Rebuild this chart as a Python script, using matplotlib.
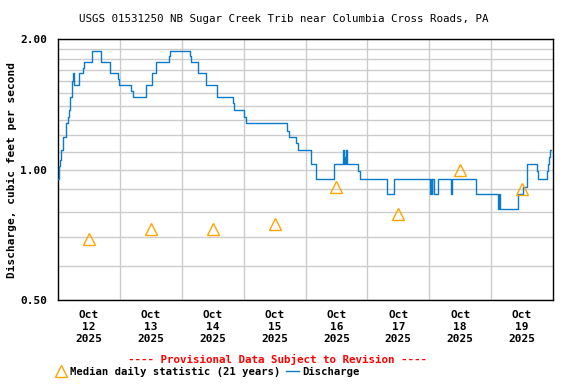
import matplotlib
matplotlib.use("Agg")
import matplotlib.pyplot as plt
from matplotlib.lines import Line2D
from matplotlib.ticker import FixedLocator, NullFormatter

# discharge, step changes: hours after Oct 12 2025 00:00 and value (cfs)
hours = [0.0, 0.25, 0.75, 1.0, 1.75, 2.0, 3.25, 4.0, 4.25, 4.75, 5.25, 5.5, 5.75, 6.25,
         8.25, 9.75, 10.25, 13.0, 13.25, 16.5, 16.75, 20.0, 23.25, 23.75, 28.5, 29.0,
         34.25, 36.5, 38.0, 43.0, 43.25, 51.25, 51.5, 54.25, 57.25, 57.5, 61.5, 67.75,
         68.25, 72.25, 72.75, 89.0, 89.5, 92.5, 93.0, 98.0, 100.0, 107.0, 110.5, 110.75,
         111.0, 111.5, 111.75, 112.0, 116.5, 117.0, 127.5, 130.5, 144.25, 144.5, 145.0,
         145.25, 145.75, 147.5, 152.5, 152.75, 162.25, 170.75, 171.0, 171.5, 178.25,
         180.25, 182.0, 185.75, 186.25, 189.75, 190.0, 190.5, 191.0, 191.25]
flow = [0.95, 1.02, 1.05, 1.11, 1.14, 1.19, 1.28, 1.32, 1.37, 1.47, 1.52, 1.60, 1.67, 1.57,
        1.67, 1.71, 1.77, 1.83, 1.88, 1.83, 1.77, 1.67, 1.62, 1.57, 1.52, 1.47,
        1.57, 1.67, 1.77, 1.83, 1.88, 1.83, 1.77, 1.67, 1.62, 1.57, 1.47, 1.42,
        1.37, 1.32, 1.28, 1.23, 1.19, 1.15, 1.11, 1.03, 0.95, 1.03, 1.11, 1.03,
        1.07, 1.03, 1.11, 1.03, 0.99, 0.95, 0.88, 0.95, 0.88, 0.95, 0.88,
        0.95, 0.88, 0.95, 0.88, 0.95, 0.88, 0.81, 0.88, 0.81, 0.88,
        0.91, 1.03, 0.99, 0.95, 0.99, 1.03, 1.07, 1.11, 1.11]

# median daily statistic, plotted at noon of each day
median_hours = [12, 36, 60, 84, 108, 132, 156, 180]
median_vals = [0.69, 0.73, 0.73, 0.75, 0.91, 0.79, 1.00, 0.90]

day_labels = ["Oct\n12\n2025", "Oct\n13\n2025", "Oct\n14\n2025", "Oct\n15\n2025",
              "Oct\n16\n2025", "Oct\n17\n2025", "Oct\n18\n2025", "Oct\n19\n2025"]

mono = "DejaVu Sans Mono"
fig = plt.figure(figsize=(5.76, 3.84), dpi=100)
ax = fig.add_axes([58/576, 1 - 300/384, 495/576, 261/384])

ax.plot(hours, flow, drawstyle="steps-post", color="#0a7bcc", lw=1.0, zorder=3)
ax.plot(median_hours, median_vals, linestyle="none", marker="^", markersize=8,
        markerfacecolor="none", markeredgecolor="#ffa500", markeredgewidth=1.0, zorder=4)

ax.set_yscale("log")
ax.set_ylim(0.5, 2.0)
ax.set_xlim(0, 192)

ax.yaxis.set_major_locator(FixedLocator([0.5, 1.0, 2.0]))
ax.set_yticklabels(["0.50", "1.00", "2.00"])
ax.yaxis.set_minor_locator(FixedLocator([0.6, 0.7, 0.8, 0.9, 1.1, 1.2, 1.3, 1.4, 1.5,
                                         1.6, 1.7, 1.8, 1.9]))
ax.yaxis.set_minor_formatter(NullFormatter())

ax.xaxis.set_major_locator(FixedLocator(median_hours))
ax.set_xticklabels(day_labels)
ax.xaxis.set_minor_locator(FixedLocator([24, 48, 72, 96, 120, 144, 168]))

ax.grid(False)
ax.grid(True, which="minor", axis="both", color="#cccccc", lw=1.0)
ax.grid(True, which="major", axis="y", color="#cccccc", lw=1.0)
ax.set_axisbelow(True)

ax.tick_params(which="both", length=0)
ax.tick_params(axis="y", pad=8)
ax.tick_params(axis="x", pad=7)
for lab in ax.get_xticklabels() + ax.get_yticklabels():
    lab.set_fontfamily(mono)
    lab.set_fontweight("bold")
    lab.set_fontsize(8)
    lab.set_linespacing(1.25)

for sp in ax.spines.values():
    sp.set_color("black")
    sp.set_linewidth(1.0)

ax.set_ylabel("Discharge, cubic feet per second", family=mono, fontweight="bold",
              fontsize=8)
ax.yaxis.set_label_coords(-0.083, 0.5)

fig.text(284/576, 1 - 19/384,
         "USGS 01531250 NB Sugar Creek Trib near Columbia Cross Roads, PA",
         family=mono, fontsize=7.8, ha="center", va="center")
fig.text(277/576, 1 - 359/384, "---- Provisional Data Subject to Revision ----",
         family=mono, fontsize=7.8, fontweight="bold", color="red",
         ha="center", va="center")

handles = [Line2D([], [], linestyle="none", marker="^", markersize=8,
                  markerfacecolor="none", markeredgecolor="#ffa500"),
           Line2D([], [], color="#0a7bcc", lw=1.0)]
fig.legend(handles, ["Median daily statistic (21 years)", "Discharge"],
           loc="center", bbox_to_anchor=(207/576, 1 - 372/384), ncol=2,
           frameon=False, handlelength=1.2, handletextpad=0.3, columnspacing=0.5,
           borderpad=0, prop={"family": mono, "weight": "bold", "size": 7.6})

fig.savefig("out.png", dpi=100)
